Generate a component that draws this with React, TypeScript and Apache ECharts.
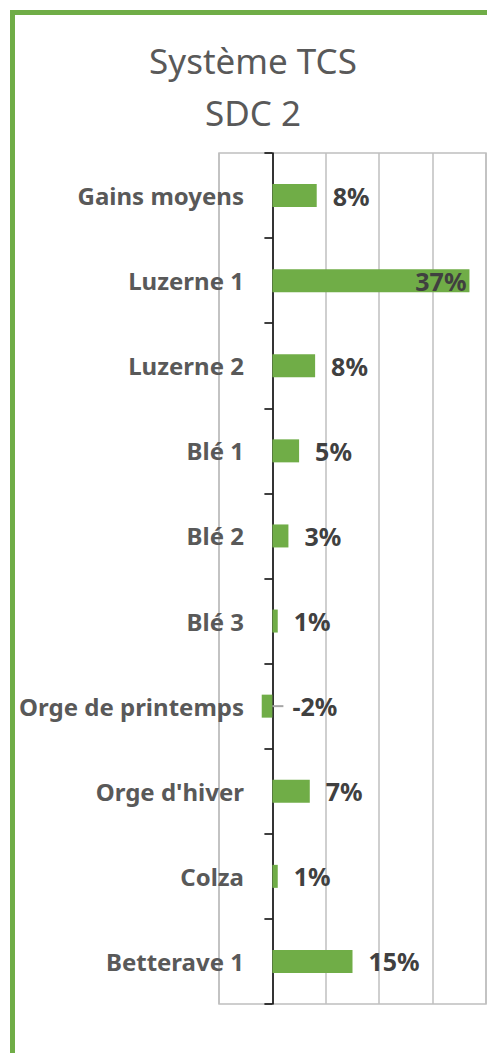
import React, { useEffect, useRef } from "react";
import * as echarts from "echarts";

const titleLines = ["Système TCS", "SDC 2"];
const categories = [
  "Gains moyens",
  "Luzerne 1",
  "Luzerne 2",
  "Blé 1",
  "Blé 2",
  "Blé 3",
  "Orge de printemps",
  "Orge d'hiver",
  "Colza",
  "Betterave 1",
];
const gains = [8.3, 36.9, 8.0, 5.0, 3.0, 1.0, -2.0, 7.0, 1.0, 15.0];
const xMin = -10;
const xMax = 40;
const xStep = 10;

const FONT = "'Noto Sans', 'Open Sans', sans-serif";
const GREEN = "#70ad47";
const LABEL_DARK = "#404040";
const TEXT_GRAY = "#595959";
const GRID_GRAY = "#bfbfbf";

const fmt = (v: number) => `${Math.round(v)}%`;

export default function App() {
  const ref = useRef<HTMLDivElement>(null);

  useEffect(() => {
    if (!ref.current) return;
    const chart = echarts.init(ref.current, null, { renderer: "svg" });

    const labelBase = {
      fontFamily: FONT,
      fontSize: 25,
      fontWeight: "bold" as const,
      color: LABEL_DARK,
    };

    const data = gains.map((v) => {
      if (v < 0) {
        return {
          value: v,
          label: {
            show: true,
            position: "right",
            distance: 0,
            formatter: `{l| }{v|${fmt(v)}}`,
            rich: {
              l: { width: 11, height: 2, backgroundColor: "#a6a6a6" },
              v: { ...labelBase, padding: [0, 0, 0, 9] },
            },
          },
        };
      }
      if (v > xMax - 8) {
        return {
          value: v,
          label: { show: true, position: "insideRight", distance: 3, ...labelBase },
        };
      }
      return { value: v };
    });

    chart.setOption({
      animation: false,
      backgroundColor: "#ffffff",
      graphic: [
        {
          type: "rect",
          shape: { x: 12.5, y: 12.5, width: 520, height: 1100 },
          style: { fill: "none", stroke: GREEN, lineWidth: 5 },
          silent: true,
        },
        {
          type: "text",
          x: 253,
          y: 60,
          style: {
            text: titleLines[0],
            fontFamily: FONT,
            fontSize: 35,
            fill: TEXT_GRAY,
            align: "center",
            verticalAlign: "middle",
          },
        },
        {
          type: "text",
          x: 253,
          y: 112,
          style: {
            text: titleLines[1],
            fontFamily: FONT,
            fontSize: 35,
            fill: TEXT_GRAY,
            align: "center",
            verticalAlign: "middle",
          },
        },
      ],
      grid: {
        show: true,
        left: 219,
        right: 1,
        top: 153,
        bottom: 49,
        borderColor: GRID_GRAY,
        borderWidth: 1.5,
        backgroundColor: "transparent",
        containLabel: false,
        outerBoundsMode: "none",
      },
      xAxis: {
        type: "value",
        min: xMin,
        max: xMax,
        interval: xStep,
        axisLabel: { show: false },
        axisLine: { show: false },
        axisTick: { show: false },
        splitLine: { show: true, lineStyle: { color: GRID_GRAY, width: 1.5 } },
      },
      yAxis: {
        type: "category",
        inverse: true,
        data: categories,
        axisLine: { show: true, onZero: true, lineStyle: { color: "#000000", width: 1.5 } },
        axisTick: { show: true, length: 8, lineStyle: { color: "#000000", width: 1.5 } },
        axisLabel: {
          margin: -25,
          fontFamily: FONT,
          fontSize: 24,
          fontWeight: "bold",
          color: TEXT_GRAY,
        },
        splitLine: { show: false },
      },
      series: [
        {
          type: "bar",
          data,
          barWidth: 23,
          itemStyle: { color: GREEN },
          label: {
            show: true,
            position: "right",
            distance: 16,
            ...labelBase,
            formatter: (p: any) => fmt(p.value),
          },
        },
      ],
    });

    return () => chart.dispose();
  }, []);

  return (
    <div
      ref={ref}
      style={{ position: "absolute", left: 0, top: 0, width: 487, height: 1053 }}
    />
  );
}
